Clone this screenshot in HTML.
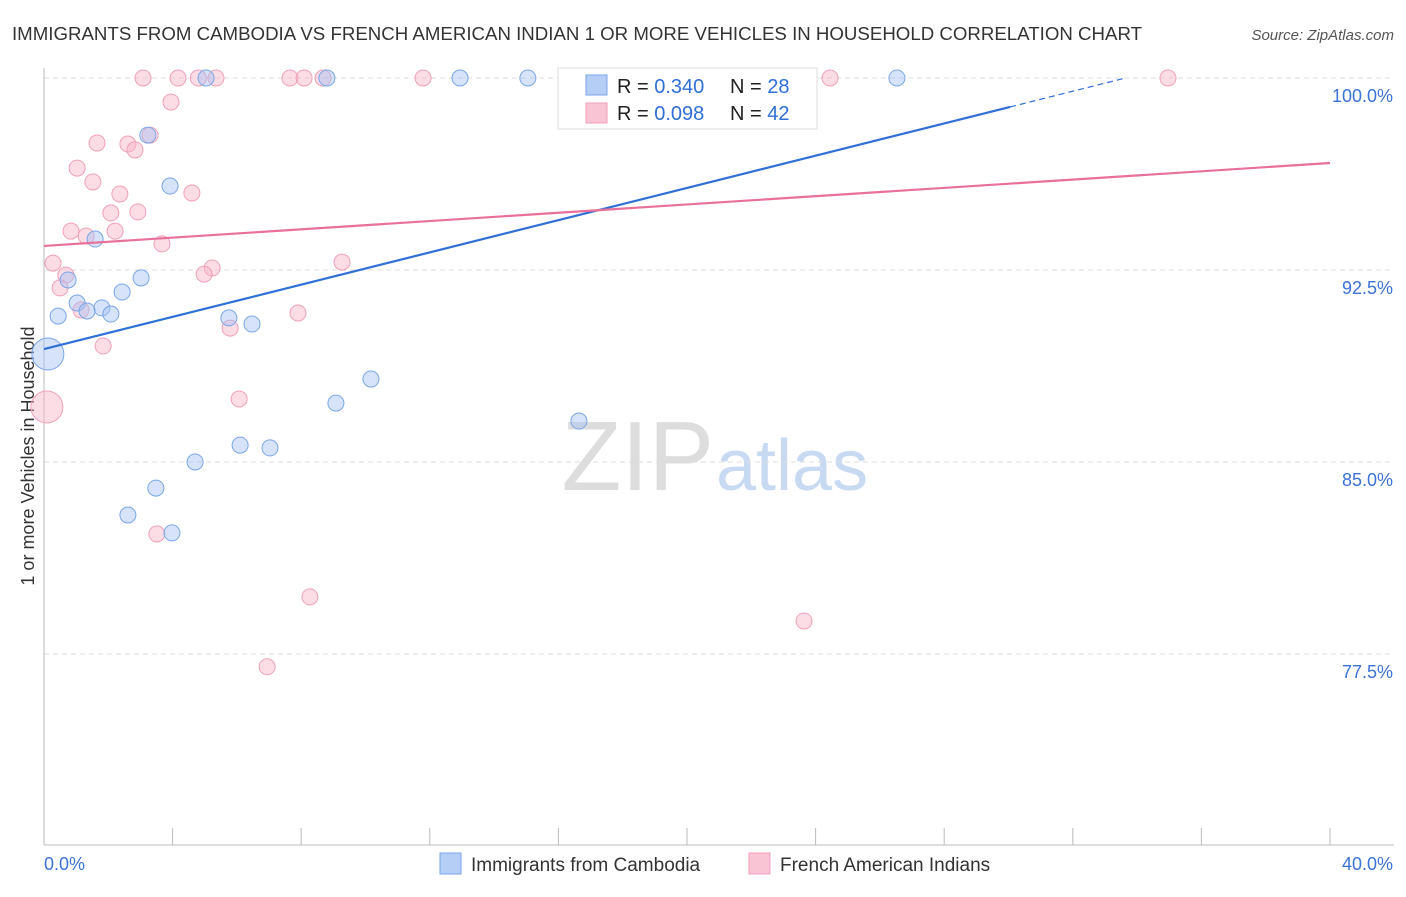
<!DOCTYPE html>
<html><head><meta charset="utf-8"><style>
body{margin:0;background:#fff;font-family:"Liberation Sans",sans-serif;}
svg text{font-family:"Liberation Sans",sans-serif;}
</style></head><body>
<svg id="chart" width="1406" height="892" xmlns="http://www.w3.org/2000/svg">
<text x="12" y="40" font-size="18" fill="#333" textLength="1130" lengthAdjust="spacingAndGlyphs">IMMIGRANTS FROM CAMBODIA VS FRENCH AMERICAN INDIAN 1 OR MORE VEHICLES IN HOUSEHOLD CORRELATION CHART</text>
<text x="1394" y="40" font-size="15" fill="#555" font-style="italic" text-anchor="end">Source: ZipAtlas.com</text>
<text x="714" y="490" font-size="98" fill="#ddd" text-anchor="end" font-family="Liberation Serif">ZIP</text>
<text x="716" y="490" font-size="72" fill="#c8daf2">atlas</text>
<text transform="translate(34,456) rotate(-90)" font-size="18" fill="#333" text-anchor="middle">1 or more Vehicles in Household</text>
<g id="grid"></g><g id="axes"></g><g id="marks"></g>
<g>
<rect x="558" y="68" width="259" height="61" fill="#fff" stroke="#ddd"/>
<rect x="586" y="75" width="21" height="20" fill="#b5cef5" stroke="#7aa6e8"/>
<rect x="586" y="103" width="21" height="20" fill="#f9c4d3" stroke="#f0a0b8"/>
<text x="617" y="93" font-size="20" fill="#222">R = <tspan fill="#2f6fd6">0.340</tspan></text>
<text x="730" y="93" font-size="20" fill="#222">N = <tspan fill="#2f6fd6">28</tspan></text>
<text x="617" y="120" font-size="20" fill="#222">R = <tspan fill="#2f6fd6">0.098</tspan></text>
<text x="730" y="120" font-size="20" fill="#222">N = <tspan fill="#2f6fd6">42</tspan></text>
</g>
<g>
<rect x="440" y="853" width="21" height="21" fill="#b5cef5" stroke="#7aa6e8"/>
<text x="471" y="871" font-size="19" fill="#333">Immigrants from Cambodia</text>
<rect x="749" y="853" width="21" height="21" fill="#f9c4d3" stroke="#f0a0b8"/>
<text x="780" y="871" font-size="19" fill="#333">French American Indians</text>
</g>
</svg>
<script>
const yTicks=[100,92.5,85,77.5];
const yTickLabels=["100.0%","92.5%","85.0%","77.5%"];
const blueX=[5.04,8.80,12.94,15.05,26.53,3.23,3.92,1.59,0.75,3.02,2.43,1.03,1.80,1.34,2.08,0.44,5.75,6.47,0.12,10.17,9.08,16.64,6.10,7.03,4.70,3.48,2.61,3.98];
const blueY=[100,100,100,100,100,97.77,95.78,93.71,92.11,92.19,91.64,91.21,91.02,90.90,90.78,90.70,90.63,90.39,89.22,88.24,87.30,86.60,85.66,85.55,85.0,83.98,82.93,82.23];
const blueR=[8,8,8,8,8,8,8,8,8,8,8,8,8,8,8,8,8,8,16,8,8,8,8,8,8,8,8,8];
const pinkX=[3.08,4.17,5.35,7.65,8.09,8.68,11.79,16.86,24.45,34.96,4.8,3.95,3.30,1.65,2.61,2.83,1.03,1.52,2.36,4.60,2.08,2.92,0.84,2.21,1.31,3.67,0.28,0.68,9.27,5.23,4.98,0.50,1.15,7.90,5.79,1.84,0.09,6.07,3.51,8.27,23.64,6.94];
const pinkY=[100,100,100,100,100,100,100,100,100,100,100,99.06,97.77,97.46,97.42,97.19,96.48,95.94,95.47,95.51,94.73,94.77,94.02,94.02,93.83,93.52,92.77,92.30,92.81,92.58,92.34,91.80,90.94,90.82,90.23,89.53,87.15,87.46,82.19,79.73,78.79,77.0];
const pinkR=[8,8,8,8,8,8,8,8,8,8,8,8,8,8,8,8,8,8,8,8,8,8,8,8,8,8,8,8,8,8,8,8,8,8,8,8,16,8,8,8,8,8];
const blueFit=[89.41,0.3148];
const pinkFit=[93.44,0.081];
const NS="http://www.w3.org/2000/svg";
const sx=v=>44+v/40*1286, sy=v=>78+(100-v)/7.5*192;
function mk(t,a,p){const e=document.createElementNS(NS,t);for(const k in a)e.setAttribute(k,a[k]);document.getElementById(p).appendChild(e);return e;}
yTicks.forEach((t,i)=>{
 const l=mk('line',{x1:44,x2:1394,y1:sy(t),y2:sy(t),stroke:'#ddd','stroke-dasharray':'5,4'},'grid');
 
 
 const tx=mk('text',{x:1393,y:sy(t)+24,'font-size':18,fill:'#3b72d6','text-anchor':'end'},'grid');tx.textContent=yTickLabels[i];
 
 
});
mk('line',{x1:44,x2:44,y1:68,y2:845,stroke:'#bbb'},'axes');
mk('line',{x1:44,x2:1394,y1:845,y2:845,stroke:'#bbb'},'axes');
for(let i=1;i<=10;i++){const t=mk('line',{x1:sx(i*4),x2:sx(i*4),y1:828,y2:845,stroke:'#bbb'},'axes');
 
 }
let a=mk('text',{x:44,y:870,'font-size':18,fill:'#3b72d6'},'axes');a.textContent='0.0%';


a=mk('text',{x:1393,y:870,'font-size':18,fill:'#3b72d6','text-anchor':'end'},'axes');a.textContent='40.0%';


pinkX.forEach((x,i)=>{const c=mk('circle',{cx:sx(x),cy:sy(pinkY[i]),r:pinkR[i],fill:'rgba(248,180,200,0.45)',stroke:'#f0a0b8'},'marks');
 
 });
blueX.forEach((x,i)=>{const c=mk('circle',{cx:sx(x),cy:sy(blueY[i]),r:blueR[i],fill:'rgba(164,194,244,0.45)',stroke:'#7aa6e8'},'marks');
 
 });
let ln=mk('line',{x1:sx(0),y1:sy(blueFit[0]),x2:sx(30.05),y2:sy(blueFit[0]+blueFit[1]*30.05),stroke:'#2f6fd6','stroke-width':2.2},'marks');


const xe=(100-blueFit[0])/blueFit[1];
ln=mk('line',{x1:sx(30.05),y1:sy(blueFit[0]+blueFit[1]*30.05),x2:sx(xe),y2:sy(100),stroke:'#2f6fd6','stroke-width':1.2,'stroke-dasharray':'6,4'},'marks');


ln=mk('line',{x1:sx(0),y1:sy(pinkFit[0]),x2:sx(40),y2:sy(pinkFit[0]+pinkFit[1]*40),stroke:'#e8709a','stroke-width':2.2},'marks');


</script>
</body></html>
